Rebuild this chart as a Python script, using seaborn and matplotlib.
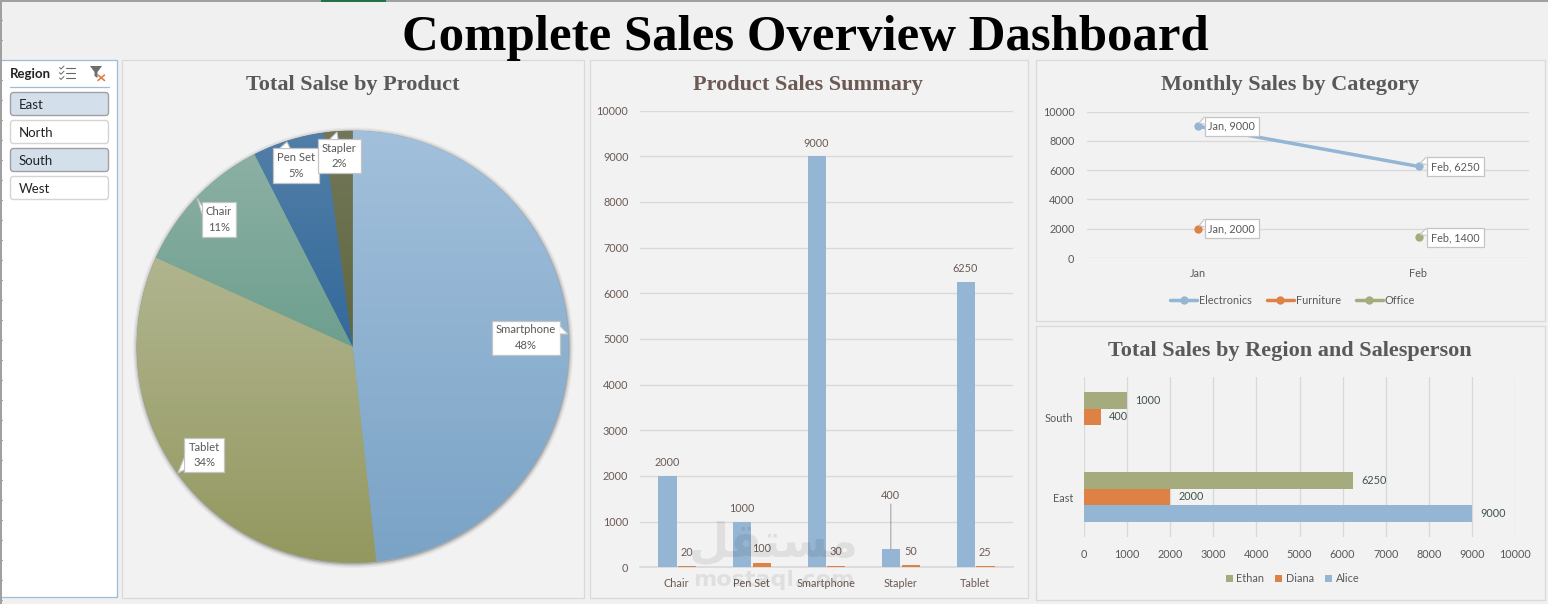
import numpy as np
import pandas as pd
import matplotlib
matplotlib.use("Agg")
import matplotlib.pyplot as plt
from matplotlib.patches import Rectangle, FancyBboxPatch, Polygon, Circle
from matplotlib.colors import LinearSegmentedColormap
import seaborn as sns

# ---- data ----
products = ["Chair", "Pen Set", "Smartphone", "Stapler", "Tablet"]
product_sales = [2000, 1000, 9000, 400, 6250]
product_quantity = [20, 100, 30, 50, 25]

pie_products = ["Smartphone", "Tablet", "Chair", "Pen Set", "Stapler"]
pie_sales = [9000, 6250, 2000, 1000, 400]

line_months = ["Jan", "Feb", "Jan", "Feb"]
line_categories = ["Electronics", "Electronics", "Furniture", "Office"]
line_sales = [9000, 6250, 2000, 1400]
category_order = ["Electronics", "Furniture", "Office"]

region_names = ["South", "South", "East", "East", "East"]
region_people = ["Ethan", "Diana", "Ethan", "Diana", "Alice"]
region_sales = [1000, 400, 6250, 2000, 9000]
people_order = ["Ethan", "Diana", "Alice"]
region_order = ["South", "East"]

slicer_items = ["East", "North", "South", "West"]
slicer_selected = ["East", "South"]

# ---- style ----
BLUE, ORANGE, OLIVE = "#94b5d3", "#dd8145", "#a5ab7d"
PANEL, EDGE = "#f2f2f2", "#d9d9d9"
GREY, BROWN = "#595959", "#6b5a54"
SANS, SERIF = "Lato", "Liberation Serif"
LABEL_SIZE = 7.8
W, H = 1548, 604

sns.set_theme(style="white")
plt.rcParams["font.family"] = [SANS, "DejaVu Sans"]
plt.rcParams["axes.unicode_minus"] = False
plt.rcParams["patch.force_edgecolor"] = False
plt.rcParams["patch.edgecolor"] = "none"

fig = plt.figure(figsize=(W / 100, H / 100), dpi=100, facecolor="#f0f0f0")


def px_axes(x0, y0, x1, y1):
    """Axes placed by pixel box, measured from the top-left of the figure."""
    ax = fig.add_axes([x0 / W, 1 - y1 / H, (x1 - x0) / W, (y1 - y0) / H])
    ax.patch.set_alpha(0)
    return ax


def canvas_axes():
    ax = fig.add_axes([0, 0, 1, 1])
    ax.set_xlim(0, W)
    ax.set_ylim(H, 0)
    ax.axis("off")
    ax.patch.set_alpha(0)
    return ax


def to_canvas(ax, x, y):
    px, py = ax.transData.transform((x, y))
    return px, H - py


def style_cartesian(ax, color):
    for side in ax.spines:
        ax.spines[side].set_visible(False)
    ax.set_xlabel("")
    ax.set_ylabel("")
    ax.set_axisbelow(True)
    ax.tick_params(colors=color, labelsize=LABEL_SIZE, length=0)


# ---- background, panels, slicer ----
bg = canvas_axes()
bg.add_patch(Rectangle((0, 0), W, 1.5, fc="#a0a0a0", ec="none"))
bg.add_patch(Rectangle((321, 0), 65, 1.5, fc="#217346", ec="none"))
bg.add_patch(Rectangle((0, 0), 1.5, H, fc="#a0a0a0", ec="none"))
for row_y in range(20, H, 20):
    bg.plot([0, 2], [row_y, row_y], color="#a0a0a0", lw=0.8)

for x0, y0, x1, y1 in [(122, 60, 583.5, 597.5), (590, 60, 1027.5, 597.5),
                       (1036, 60, 1544.5, 320.5), (1036, 326, 1544.5, 599.5)]:
    bg.add_patch(Rectangle((x0, y0), x1 - x0, y1 - y0, fc=PANEL, ec=EDGE, lw=0.9))

bg.add_patch(Rectangle((1.5, 60), 116, 536.5, fc="white", ec="none"))
bg.plot([1.5, 117, 117, 1.5], [60, 60, 596.5, 596.5], color="#9dbcd8", lw=0.9)
bg.text(10, 74.5, "Region", fontsize=9.5, fontweight="bold", color="#222222", va="center")
bg.plot([10, 109], [87, 87], color="#9dbcd8", lw=0.9)
for i, item in enumerate(slicer_items):
    row_top = 92 + 28 * i
    chosen = item in slicer_selected
    bg.add_patch(FancyBboxPatch((10.5, row_top + 0.5), 98, 23, boxstyle="round,pad=0,rounding_size=3",
                                fc="#d3e0ec" if chosen else "white",
                                ec="#a0a0a0" if chosen else "#d4d4d4", lw=1))
    bg.text(19, row_top + 12.8, item, fontsize=9.5, color="#222222", va="center")

# multi-select and clear-filter glyphs
for row in range(3):
    y = 68 + row * 5.2
    bg.plot([66, 75], [y, y], color="#666666", lw=0.8)
    bg.plot([59.5, 61, 64], [y - 0.5, y + 1, y - 2], color="#666666", lw=0.7)
bg.add_patch(Polygon([(90, 66), (102, 66), (97.5, 72), (97.5, 78), (94.5, 76), (94.5, 72)],
                     fc="#6e6e6e", ec="none"))
bg.plot([98, 104.5], [75, 80.5], color="#d9773f", lw=1.1)
bg.plot([98, 104.5], [80.5, 75], color="#d9773f", lw=1.1)

# ---- headings ----
bg.text(805, 38, "Complete Sales Overview Dashboard", family=SERIF, fontweight="bold",
        fontsize=36.6, color="black", ha="center", va="center")
for cx, cy, label, col in [(353, 85, "Total Salse by Product", GREY),
                           (808, 85, "Product Sales Summary", BROWN),
                           (1290, 85, "Monthly Sales by Category", GREY),
                           (1290, 351, "Total Sales by Region and Salesperson", GREY)]:
    bg.text(cx, cy, label, family=SERIF, fontweight="bold", fontsize=16, color=col,
            ha="center", va="center")

# ---- pie ----
pie_ax = px_axes(352.7 - 237.6, 346.7 - 237.6, 352.7 + 237.6, 346.7 + 237.6)
gradients = [("#a2c0db", "#7aa3c6"), ("#b1b58f", "#93985f"), ("#8cb0a4", "#6d9f8e"),
             ("#527fa8", "#33699a"), ("#73775a", "#60663e")]
wedges, _ = pie_ax.pie(pie_sales, startangle=90, counterclock=False, radius=1,
                       colors=[g[1] for g in gradients])
for r, a in [(1.020, 0.04), (1.014, 0.06), (1.008, 0.09), (1.003, 0.14)]:
    pie_ax.add_patch(Circle((0.002, -0.005), r, fc="black", ec="none", alpha=a, zorder=0))
ramp = np.linspace(0, 1, 256).reshape(-1, 1)
for wedge, (c0, c1) in zip(wedges, gradients):
    cmap = LinearSegmentedColormap.from_list("shade", [c0, c1])
    span = wedge.get_path().get_extents(wedge.get_patch_transform())
    im = pie_ax.imshow(ramp, cmap=cmap, extent=(-1.01, 1.01, span.y0, span.y1), origin="upper",
                       aspect="auto", zorder=2)
    im.set_clip_path(wedge)
pie_ax.set_xlim(-1.1, 1.1)
pie_ax.set_ylim(-1.1, 1.1)
pie_ax.set_aspect("equal")
pie_ax.axis("off")

# ---- columns ----
bar_ax = px_axes(639.5, 110.6, 1012.5, 567.3)
bar_df = pd.DataFrame({
    "Product": products * 2,
    "Value": product_sales + product_quantity,
    "Measure": ["Sales"] * len(products) + ["Quantity"] * len(products),
})
sns.barplot(data=bar_df, x="Product", y="Value", hue="Measure", order=products,
            hue_order=["Sales", "Quantity"], palette=[BLUE, ORANGE], width=0.525, gap=0.12,
            saturation=1, legend=False, linewidth=0, ax=bar_ax)
bar_ax.set_xlim(-0.5, 4.5)
bar_ax.set_ylim(0, 10000)
bar_ax.set_yticks(range(0, 10001, 1000))
style_cartesian(bar_ax, BROWN)
bar_ax.grid(axis="y", color=EDGE, lw=1)
bar_ax.spines["bottom"].set_visible(True)
bar_ax.spines["bottom"].set_color(EDGE)
bar_ax.spines["bottom"].set_zorder(0.6)
bar_ax.tick_params(axis="y", pad=8)
bar_ax.tick_params(axis="x", pad=8)
bar_ax.set_xticks(np.arange(-0.5, 5), minor=True)
bar_ax.tick_params(axis="x", which="minor", length=3, color=EDGE, width=1)
for patch in bar_ax.patches:
    h = patch.get_height()
    if h <= 0:
        continue
    # a hairline keeps the shortest columns visible at this scale
    patch.set_edgecolor(patch.get_facecolor())
    patch.set_linewidth(0.7)
    xc = patch.get_x() + patch.get_width() / 2
    lifted = h == 400
    rise = 54 if lifted else (14 if h < 400 else 13)
    bar_ax.annotate(f"{h:.0f}", (xc, h), xytext=(0, rise * 0.72), textcoords="offset points",
                    ha="center", va="center", fontsize=LABEL_SIZE, color=BROWN)
    if lifted:
        bar_ax.annotate("", (xc, h), xytext=(0, 45 * 0.72), textcoords="offset points",
                        arrowprops=dict(arrowstyle="-", color="#a6a6a6", lw=0.8,
                                        shrinkA=0, shrinkB=0))

# ---- monthly lines ----
line_ax = px_axes(1087, 111.5, 1529, 258)
line_df = pd.DataFrame({"Month": line_months, "Category": line_categories, "Sales": line_sales})
sns.lineplot(data=line_df, x="Month", y="Sales", hue="Category", hue_order=category_order,
             palette=[BLUE, ORANGE, OLIVE], marker="o", markersize=6, markeredgewidth=0,
             linewidth=2.5, sort=False, errorbar=None, ax=line_ax)
line_ax.set_xlim(-0.5, 1.5)
line_ax.set_ylim(0, 10000)
line_ax.set_yticks(range(0, 10001, 2000))
style_cartesian(line_ax, GREY)
line_ax.grid(axis="y", color=EDGE, lw=1)
line_ax.tick_params(axis="y", pad=9)
line_ax.tick_params(axis="x", pad=7.5)
line_ax.legend(loc="center", bbox_to_anchor=(0.465, -0.29), ncol=3, frameon=False,
               fontsize=LABEL_SIZE, labelcolor=GREY, handlelength=2.5, handletextpad=0.2,
               columnspacing=1.35, borderpad=0)

# ---- horizontal bars ----
hbar_ax = px_axes(1084, 377, 1515, 537)
hbar_df = pd.DataFrame({"Region": region_names, "Person": region_people, "Sales": region_sales})
sns.barplot(data=hbar_df, y="Region", x="Sales", hue="Person", order=region_order,
            hue_order=people_order, palette=[OLIVE, ORANGE, BLUE], orient="h", width=0.625,
            gap=0, saturation=1, linewidth=0, ax=hbar_ax)
hbar_ax.set_xlim(0, 10000)
hbar_ax.set_ylim(1.5, -0.5)
hbar_ax.set_xticks(range(0, 10001, 1000))
style_cartesian(hbar_ax, GREY)
hbar_ax.grid(axis="x", color=EDGE, lw=1)
hbar_ax.tick_params(axis="y", pad=8)
hbar_ax.tick_params(axis="x", pad=8.3)
for patch in hbar_ax.patches:
    w = patch.get_width()
    if w > 0:
        hbar_ax.annotate(f"{w:.0f}", (w, patch.get_y() + patch.get_height() / 2), xytext=(8 * 0.72, 0),
                         textcoords="offset points", ha="left", va="center", fontsize=LABEL_SIZE,
                         color="#3f5548")
hbar_ax.legend(loc="center", bbox_to_anchor=(0.484, -0.262), ncol=3, frameon=False,
               fontsize=LABEL_SIZE, labelcolor=GREY, handlelength=0.65, handleheight=0.65,
               handletextpad=0.35, columnspacing=1.0, borderpad=0)

# ---- callouts ----
top = canvas_axes()


def callout(box, tail, lines, size=8.1, color=GREY):
    x0, y0, x1, y1 = box
    top.add_patch(Rectangle((x0, y0), x1 - x0, y1 - y0, fc="white", ec="#c4c4c4", lw=0.9, zorder=5))
    top.add_patch(Polygon(tail, closed=False, fc="white", ec="#c4c4c4", lw=0.8, zorder=6))
    top.text((x0 + x1) / 2, (y0 + y1) / 2, "\n".join(lines), fontsize=size, color=color,
             ha="center", va="center", linespacing=1.45, zorder=7)


pie_boxes = {
    "Smartphone": ((491.5, 320.5, 560, 354.5), [(560, 326), (568, 334), (560, 334)]),
    "Tablet": ((184, 438, 224, 472), [(184, 458), (178, 473), (184, 470)]),
    "Chair": ((202, 202, 236, 237), [(202, 206), (197, 198), (202, 214)]),
    "Pen Set": ((273, 148, 319, 183), [(280, 148), (287, 142), (290, 148)]),
    "Stapler": ((318, 139, 361, 173), [(330, 139), (337, 132), (338, 139)]),
}
total_sales = sum(pie_sales)
for name, value in zip(pie_products, pie_sales):
    box, tail = pie_boxes[name]
    callout(box, tail, [name, f"{100 * value / total_sales:.0f}%"])

month_pos = {"Jan": 0, "Feb": 1}
box_widths = {"Jan": 54, "Feb": 57}
box_gaps = {"Jan": 7, "Feb": 8}
for month, sales in zip(line_months, line_sales):
    px, py = to_canvas(line_ax, month_pos[month], sales)
    gap, width = box_gaps[month], box_widths[month]
    box = (px + gap, py - 9.5, px + gap + width, py + 9.5)
    tail = [(px + gap, py - 9.5), (px + 1.5, py - 3), (px + gap, py - 2)]
    callout(box, tail, [f"{month}, {sales}"], size=7.8)

# ---- site mark ----
top.text(774, 544, "\ufede\ufed8\ufe98\ufeb4\ufee3", family="DejaVu Sans", fontsize=33.5,
         fontweight="bold", color="black", alpha=0.075, ha="center", va="center", zorder=8)
top.text(774, 580, "mostaql.com", family="DejaVu Sans", fontsize=16, fontweight="bold",
         color="black", alpha=0.075, ha="center", va="center", zorder=8)

fig.savefig("out.png", dpi=100, facecolor=fig.get_facecolor())
